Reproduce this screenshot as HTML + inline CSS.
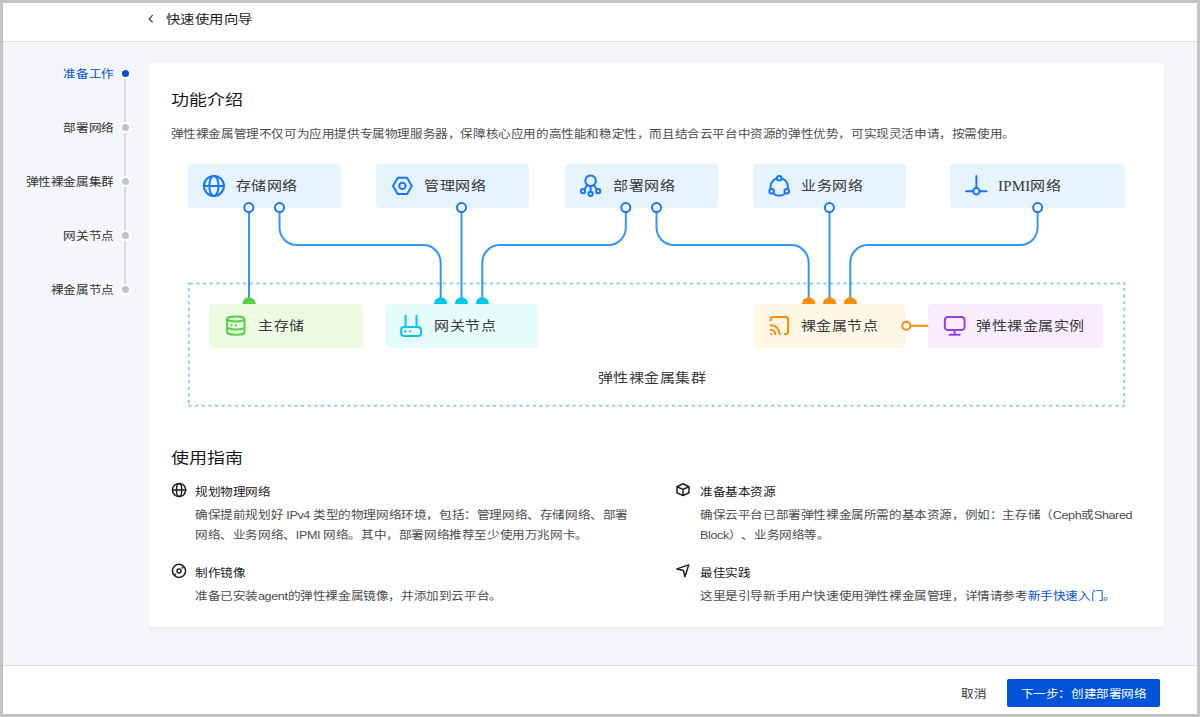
<!DOCTYPE html>
<html lang="zh-CN">
<head>
<meta charset="utf-8">
<style>
*{margin:0;padding:0;box-sizing:border-box;}
html,body{width:1200px;height:717px;overflow:hidden;}
body{background:#c4c4c4;font-family:"Liberation Sans",sans-serif;position:relative;text-spacing-trim:space-all;}
.abs{position:absolute;}
.app{position:absolute;left:3px;top:3px;width:1194px;height:711px;background:#f5f6fa;}
.hdr{position:absolute;left:3px;top:3px;width:1194px;height:39px;background:#fff;border-bottom:1px solid #dcdde1;}
.ftr{position:absolute;left:3px;top:665px;width:1194px;height:49px;background:#fff;border-top:1px solid #dcdde1;}
.t{position:absolute;white-space:nowrap;line-height:1;transform:scaleY(0.9);}
.s{font-size:12.6px;letter-spacing:-0.4px;}
.card{position:absolute;left:149px;top:63px;width:1015px;height:564px;background:#fff;border-radius:2px;box-shadow:0 2px 4px -1px rgba(0,0,0,0.07),0 0 1px rgba(0,0,0,0.04);}
.step{color:#333;text-align:right;width:120px;left:-6.2px;}
.dot{position:absolute;left:119.9px;width:11px;height:11px;border-radius:50%;background:#c2c2c2;border:2px solid #fff;}
.box{position:absolute;height:43.5px;border-radius:4px;}
.nb{background:#e6f4ff;width:153px;top:164px;}
.bb{top:304px;}
.lbl{position:absolute;font-size:15px;color:#383838;white-space:nowrap;line-height:1;transform:scaleY(0.85);letter-spacing:0.5px;}
svg{display:block;overflow:visible;position:absolute;}
.gt{color:#1a1a1a;}
.gd{color:#4d4d4d;}
</style>
</head>
<body>
<div class="abs" style="left:2px;top:2px;width:1195px;height:713px;background:#bebebe;"></div>
<div class="app"></div>
<div class="hdr"></div>
<svg style="left:147px;top:14px" width="8" height="12" viewBox="0 0 8 12"><path d="M5.6 1.2L2.2 4.9L5.6 8.4" fill="none" stroke="#333" stroke-width="1.2"/></svg>
<div class="t" style="left:166px;top:12.6px;font-size:14.4px;letter-spacing:0.4px;color:#1a1a1a;transform:scaleY(0.86);">快速使用向导</div>

<!-- steps -->
<div class="abs" style="left:124px;top:75px;width:2px;height:214px;background:#d9d9dc;"></div>
<div class="t s step" style="top:67.5px;color:#0052d9;">准备工作</div>
<div class="t s step" style="top:121.5px;">部署网络</div>
<div class="t s step" style="top:175.5px;">弹性裸金属集群</div>
<div class="t s step" style="top:229.5px;">网关节点</div>
<div class="t s step" style="top:283.5px;">裸金属节点</div>
<div class="dot" style="top:67.9px;background:#0052d9;"></div>
<div class="dot" style="top:122px;"></div>
<div class="dot" style="top:176px;"></div>
<div class="dot" style="top:230px;"></div>
<div class="dot" style="top:284px;"></div>

<div class="card"></div>

<div class="t" style="left:170.5px;top:91.2px;font-size:18px;color:#1a1a1a;transform:scaleY(0.84);">功能介绍</div>
<div class="t s" style="left:170.5px;top:128px;color:#4d4d4d;">弹性裸金属管理不仅可为应用提供专属物理服务器，保障核心应用的高性能和稳定性，而且结合云平台中资源的弹性优势，可实现灵活申请，按需使用。</div>

<!-- network boxes -->
<div class="box nb" style="left:187.6px;width:153.3px;"></div>
<div class="box nb" style="left:376px;"></div>
<div class="box nb" style="left:565px;"></div>
<div class="box nb" style="left:752.7px;"></div>
<div class="box nb" style="left:950px;width:175.3px;"></div>
<div class="lbl" style="left:235.5px;top:178px;">存储网络</div>
<div class="lbl" style="left:424.3px;top:178px;">管理网络</div>
<div class="lbl" style="left:613px;top:178px;">部署网络</div>
<div class="lbl" style="left:801px;top:178px;">业务网络</div>
<div class="lbl" style="left:998px;top:178px;transform:none;"><span style="font-family:'Liberation Serif',serif;letter-spacing:0.2px;">IPMI</span><span style="display:inline-block;transform:scaleY(0.85);letter-spacing:0.3px;">网络</span></div>

<!-- bottom boxes -->
<div class="box bb" style="left:209.4px;width:153.3px;background:#edfbe3;"></div>
<div class="box bb" style="left:385.2px;width:152.6px;background:#e6fcfa;"></div>
<div class="box bb" style="left:753px;width:153px;background:#fff7e6;"></div>
<div class="box bb" style="left:928.4px;width:174.8px;background:#f8edfe;"></div>
<div class="lbl" style="left:258px;top:317.8px;">主存储</div>
<div class="lbl" style="left:434px;top:317.8px;">网关节点</div>
<div class="lbl" style="left:800.5px;top:317.8px;">裸金属节点</div>
<div class="lbl" style="left:976px;top:317.8px;">弹性裸金属实例</div>
<div class="lbl" style="left:597.6px;top:369.5px;">弹性裸金属集群</div>

<!-- diagram overlay -->
<svg style="left:0;top:0" width="1200" height="717" viewBox="0 0 1200 717">
  <g fill="none" stroke="#93cdfb" stroke-width="2"><path d="M188 283.6H1125.4" stroke-dasharray="3.2 3.471" stroke-dashoffset="5.071"/><path d="M188 405.8H1125.4" stroke-dasharray="3.1 3.520" stroke-dashoffset="6.12"/><path d="M188.8 282.5V406.8" stroke-dasharray="3.2 3.376" stroke-dashoffset="0.976"/><path d="M1124.25 282.5V404.8" stroke-dasharray="3.2 3.365" stroke-dashoffset="1.165"/></g>
  <g fill="none" stroke="#3496f8" stroke-width="2">
    <path d="M249 207.6V304 M461.5 207.6V304 M829.5 207.6V304 M279.5 207.6V227.6A17.5 17.5 0 0 0 297.0 245.1H423.2A17.5 17.5 0 0 1 440.7 262.6V304 M625.8 207.6V227.6A17.5 17.5 0 0 1 608.3 245.1H499.8A17.5 17.5 0 0 0 482.3 262.6V304 M656.5 207.6V227.6A17.5 17.5 0 0 0 674.0 245.1H791.2A17.5 17.5 0 0 1 808.7 262.6V304 M1037.6 207.6V227.6A17.5 17.5 0 0 1 1020.1 245.1H867.8A17.5 17.5 0 0 0 850.3 262.6V304"/>
  </g>
  <g fill="#fff" stroke="#1677ff" stroke-width="2">
    <circle cx="248.8" cy="207.6" r="4.5"/>
    <circle cx="279.5" cy="207.6" r="4.5"/>
    <circle cx="461.5" cy="207.6" r="4.5"/>
    <circle cx="625.8" cy="207.6" r="4.5"/>
    <circle cx="656.5" cy="207.6" r="4.5"/>
    <circle cx="829.4" cy="207.6" r="4.5"/>
    <circle cx="1037.6" cy="207.6" r="4.5"/>
  </g>
  <path d="M242.3 304A6.7 6.7 0 0 1 255.7 304Z" fill="#54d046"/>
  <g fill="#05c8e8">
    <path d="M434 304A6.7 6.7 0 0 1 447.4 304Z"/>
    <path d="M454.8 304A6.7 6.7 0 0 1 468.2 304Z"/>
    <path d="M475.6 304A6.7 6.7 0 0 1 489 304Z"/>
  </g>
  <g fill="#fe8c03">
    <path d="M802 304A6.7 6.7 0 0 1 815.4 304Z"/>
    <path d="M822.9 304A6.7 6.7 0 0 1 836.3 304Z"/>
    <path d="M843.6 304A6.7 6.7 0 0 1 857 304Z"/>
  </g>
  <path d="M910.3 325.8H928.4" stroke="#fe8c03" stroke-width="2"/>
  <circle cx="906.3" cy="325.8" r="4" fill="#fff" stroke="#fe8c03" stroke-width="2"/>

  <!-- top icons -->
  <g fill="none" stroke="#1677ff" stroke-width="2" stroke-linecap="round" stroke-linejoin="round">
    <!-- globe -->
    <circle cx="213.9" cy="185.9" r="10"/>
    <ellipse cx="213.9" cy="185.9" rx="4.6" ry="10"/>
    <path d="M203.9 185.9H223.9"/>
    <!-- hexagon -->
    <path d="M393 185.9L397.7 177.7H407.1L411.8 185.9L407.1 194.1H397.7Z"/>
    <circle cx="402.4" cy="185.9" r="3.2"/>
    <!-- deploy -->
    <circle cx="590.6" cy="180.8" r="5.3"/>
    <circle cx="583" cy="191.2" r="2.1"/>
    <circle cx="590.6" cy="193.8" r="2.1"/>
    <circle cx="598.2" cy="191.2" r="2.1"/>
    <path d="M590.6 186.1V191.7 M587.3 185L584.4 189.5 M593.9 185L596.8 189.5"/>
    <!-- business -->
    <circle cx="779.2" cy="186.9" r="8.8"/>
    <circle cx="779.2" cy="178.2" r="2.3" fill="#e6f4ff"/>
    <circle cx="771.6" cy="191.3" r="2.3" fill="#e6f4ff"/>
    <circle cx="786.8" cy="191.3" r="2.3" fill="#e6f4ff"/>
    <!-- ipmi -->
    <path d="M976.4 176V188 M966.2 191.3H973.2 M979.6 191.3H986.6"/>
    <circle cx="976.4" cy="191.3" r="3.2"/>
  </g>
  <!-- bottom icons -->
  <g fill="none" stroke-width="2" stroke-linecap="round" stroke-linejoin="round">
    <g stroke="#54d046">
      <ellipse cx="235.8" cy="319" rx="8.7" ry="2.4"/>
      <path d="M227.1 319V332.4 M244.5 319V332.4 M227.1 326.8A8.7 2.6 0 0 0 244.5 326.8 M227.1 332.2A8.7 2.6 0 0 0 244.5 332.2"/>
      <path d="M231.4 325.4h0.1 M235.9 325.4h0.1" stroke-width="2.2"/>
    </g>
    <g stroke="#05c8e8">
      <rect x="401.1" y="326.9" width="19.9" height="9.1" rx="3"/>
      <path d="M405.6 315.8V326.9 M416.5 315.8V326.9"/>
      <path d="M405.4 331.3h0.1 M410.1 331.3h0.1" stroke-width="2.3"/>
    </g>
    <g stroke="#fe8c03">
      <path d="M770.6 320.3V319.6A2.5 2.5 0 0 1 773.1 317.1H785.6A2.5 2.5 0 0 1 788.1 319.6V331.4A2.5 2.5 0 0 1 785.6 333.9H784.8"/>
      <path d="M770.7 325.2A9 9 0 0 1 779.7 334.2 M770.7 329.7A4.5 4.5 0 0 1 775.2 334.2"/>
      <path d="M771.1 334.1h0.1" stroke-width="2.2"/>
    </g>
    <g stroke="#9240e0">
      <rect x="944.8" y="317" width="19.8" height="13.1" rx="3.2"/>
      <path d="M954.6 331V334.5 M949.4 334.7H959.7"/>
    </g>
  </g>
</svg>

<div class="t" style="left:170.5px;top:448.8px;font-size:18px;color:#1a1a1a;transform:scaleY(0.84);">使用指南</div>

<svg style="left:0;top:0" width="1200" height="717" viewBox="0 0 1200 717">
  <g fill="none" stroke="#1f1f1f" stroke-width="1.5" stroke-linecap="round" stroke-linejoin="round">
    <circle cx="179.1" cy="490" r="6.6"/>
    <ellipse cx="179.1" cy="490" rx="2.6" ry="6.6"/>
    <path d="M172.5 490H185.7"/>
    <circle cx="179" cy="570.9" r="6.6"/>
    <circle cx="179" cy="570.9" r="2"/>
    <path d="M182.3 567.9L183 567.2 M175.6 574.3L174.9 575"/>
    <path d="M683 483.8L689 486.7V492.8L683 495.6L677 492.8V486.7Z M677 486.7L683 489.4L689 486.7 M683 489.4V495.6"/>
    <path d="M688.7 564.9L676.9 568.9L683.5 570.6L684.9 576.7Z"/>
  </g>
</svg>
<div class="t s gt" style="left:195px;top:485.6px;">规划物理网络</div>
<div class="t s gd" style="left:195px;top:508.8px;">确保提前规划好 IPv4 类型的物理网络环境，包括：管理网络、存储网络、部署</div>
<div class="t s gd" style="left:195px;top:528.6px;">网络、业务网络、IPMI 网络。其中，部署网络推荐至少使用万兆网卡。</div>
<div class="t s gt" style="left:195px;top:566.5px;">制作镜像</div>
<div class="t s gd" style="left:195px;top:589.5px;">准备已安装agent的弹性裸金属镜像，并添加到云平台。</div>
<div class="t s gt" style="left:700px;top:485.8px;">准备基本资源</div>
<div class="t s gd" style="left:700px;top:508.8px;">确保云平台已部署弹性裸金属所需的基本资源，例如：主存储（Ceph或Shared</div>
<div class="t s gd" style="left:700px;top:528.6px;">Block）、业务网络等。</div>
<div class="t s gt" style="left:700px;top:566.5px;">最佳实践</div>
<div class="t s gd" style="left:700px;top:589.5px;">这里是引导新手用户快速使用弹性裸金属管理，详情请参考<span style="color:#0052d9">新手快速入门。</span></div>

<div class="ftr"></div>
<div class="t s" style="left:961px;top:687.6px;color:#333;">取消</div>
<div class="abs" style="left:1007.2px;top:679px;width:153px;height:27.5px;background:#0052d9;border-radius:2px;"></div>
<div class="t s" style="left:1020.6px;top:687.6px;color:#fff;">下一步：创建部署网络</div>
</body>
</html>
